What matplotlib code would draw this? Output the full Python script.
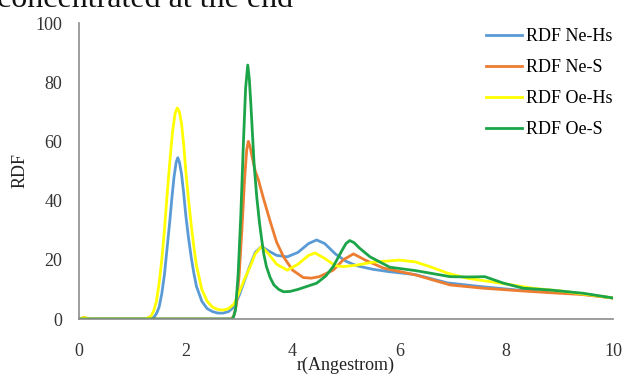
import matplotlib
matplotlib.use("Agg")
import matplotlib.pyplot as plt

plt.rcParams["font.family"] = ["Liberation Serif", "DejaVu Serif"]

# values (r in Angstrom)
r_ne_hs = [0, 1.3, 1.4, 1.45, 1.5, 1.55, 1.6, 1.65, 1.7, 1.74, 1.78, 1.82, 1.85, 1.88, 1.92, 1.96,
           2.0, 2.05, 2.1, 2.15, 2.2, 2.3, 2.4, 2.5, 2.6, 2.7, 2.8, 2.9, 3.0, 3.1, 3.2, 3.3,
           3.42, 3.55, 3.7, 3.9, 4.1, 4.3, 4.45, 4.6, 4.8, 5.0, 5.2, 5.5, 5.8, 6.3, 6.9, 7.5,
           8.2, 8.8, 9.4, 10.0]
rdf_ne_hs = [0, 0, 0.5, 1.8, 4, 8.5, 15, 24, 33, 41, 48, 53, 54.5, 53, 49, 42.5,
             35, 27.5, 21, 15.5, 11, 6, 3.5, 2.5, 2, 2, 2.5, 4, 8, 13, 18, 22.5,
             24.5, 23, 21.5, 21, 22.5, 25.5, 26.7, 25.5, 22, 19.5, 18, 16.8, 16, 15, 12.2, 11,
             9.8, 9.2, 8.5, 7.1]

r_ne_s = [0, 0.1, 0.2, 2.85, 2.9, 2.95, 3.0, 3.05, 3.1, 3.14, 3.17, 3.2, 3.24, 3.3, 3.36, 3.45,
          3.58, 3.7, 3.83, 4.0, 4.2, 4.35, 4.5, 4.76, 4.95, 5.14, 5.35, 5.7, 6.3, 6.95, 7.57,
          8.2, 8.8, 9.4, 10.0]
rdf_ne_s = [0, 0.5, 0, 0, 1, 5, 15, 30, 47, 57, 60, 58.5, 55, 50, 47, 41,
            33, 26, 21, 16.5, 14, 13.8, 14.3, 16.5, 20, 22, 20, 17.2, 14.9, 11.5, 10.4,
            9.6, 8.9, 8.3, 7.1]

r_oe_hs = [0, 0.1, 0.2, 1.25, 1.35, 1.4, 1.45, 1.5, 1.55, 1.6, 1.65, 1.7, 1.75, 1.8, 1.84, 1.88,
           1.92, 1.96, 2.0, 2.05, 2.1, 2.15, 2.2, 2.3, 2.4, 2.5, 2.6, 2.7, 2.8, 2.9, 3.0, 3.1,
           3.2, 3.3, 3.42, 3.55, 3.7, 3.9, 4.1, 4.3, 4.42, 4.6, 4.8, 4.95, 5.2, 5.5, 6.0, 6.3,
           6.6, 6.9, 7.26, 7.9, 8.5, 9.0, 9.5, 10.0]
rdf_oe_hs = [0, 0.5, 0, 0, 1, 2.8, 6, 12, 20, 30, 42, 53, 63, 69.5, 71.3, 70,
             66, 59, 50, 40.5, 32, 24.5, 18, 10, 6, 4, 3.2, 3, 3.5, 5, 9, 13.5,
             17.5, 22, 24.5, 22, 18.5, 16.5, 18.5, 21.5, 22.3, 20.5, 18, 17.7, 18.2, 19.2, 19.9, 19.3,
             17.5, 15.5, 13.8, 12.1, 10.4, 9.5, 8.3, 7.1]

r_oe_s = [0, 2.88, 2.93, 2.98, 3.03, 3.08, 3.12, 3.16, 3.19, 3.22, 3.25, 3.28, 3.33, 3.38, 3.42,
          3.46, 3.51, 3.58, 3.65, 3.74, 3.83, 3.95, 4.1, 4.45, 4.62, 4.76, 4.92, 5.0, 5.07,
          5.15, 5.25, 5.45, 5.82, 6.32, 6.95, 7.3, 7.6, 7.95, 8.32, 8.82, 9.44, 10.0]
rdf_oe_s = [0, 0, 3, 15, 35, 60, 78, 85.8, 81, 72, 62, 52, 41, 32.5, 27,
            22, 17.7, 14, 11.5, 10, 9.2, 9.3, 10, 12.1, 14.5, 17.7, 23, 25.5, 26.5,
            25.8, 24, 21, 17.5, 16.3, 14.3, 14.2, 14.3, 12.1, 10.4, 9.8, 8.7, 7.1]

fig = plt.figure(figsize=(6.27, 3.76), dpi=100)
ax = fig.add_axes([79 / 627, 1 - 319 / 376, (613 - 79) / 627, (319 - 23) / 376])

lw = 2.0
ax.plot(r_ne_hs, rdf_ne_hs, color="#5B9BD5", lw=lw, label="RDF Ne-Hs")
ax.plot(r_ne_s, rdf_ne_s, color="#ED7D31", lw=lw, label="RDF Ne-S")
ax.plot(r_oe_hs, rdf_oe_hs, color="#FFFF00", lw=lw, label="RDF Oe-Hs")
ax.plot(r_oe_s, rdf_oe_s, color="#1BA548", lw=lw, label="RDF Oe-S")

ax.set_xlim(0, 10)
ax.set_ylim(0, 100)
ax.set_xticks([0, 2, 4, 6, 8, 10])
ax.set_yticks([0, 20, 40, 60, 80, 100])
for s in ["top", "right"]:
    ax.spines[s].set_visible(False)
for s in ["left", "bottom"]:
    ax.spines[s].set_color("#8c8c8c")
    ax.spines[s].set_linewidth(1.2)
ax.tick_params(axis="x", length=0, pad=17, labelsize=13, labelcolor="#333333")
ax.tick_params(axis="y", length=0, pad=12, labelsize=13, labelcolor="#333333")
ax.set_xlabel("r(Angestrom)", fontsize=13, color="#222222", labelpad=-2)
ax.set_ylabel("RDF", fontsize=13, color="#222222", labelpad=5)

ax.legend(loc="upper left", bbox_to_anchor=(486 / 627, 1 - 28 / 376),
          bbox_transform=fig.transFigure, frameon=False, fontsize=13,
          borderpad=0, borderaxespad=0, handlelength=2.0, handletextpad=0.2,
          labelspacing=0.78)

# document text cut off above the chart
fig.text(-0.004, 1 - 7 / 376, "concentrated at the end", fontsize=23,
         va="baseline", ha="left", color="#111111")

fig.savefig("out.png", dpi=100)
